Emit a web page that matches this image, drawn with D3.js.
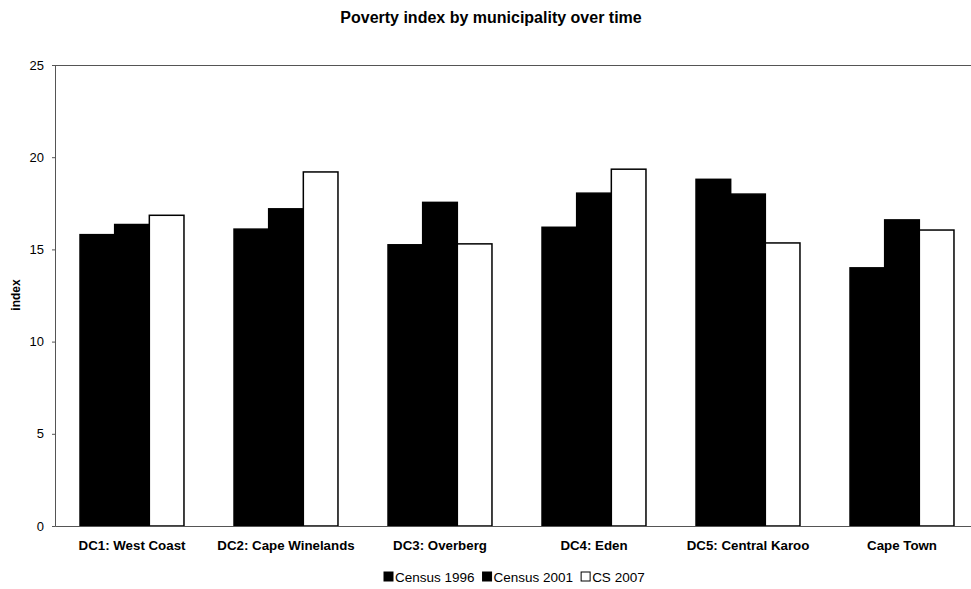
<!DOCTYPE html>
<html>
<head>
<meta charset="utf-8">
<script src="https://cdn.jsdelivr.net/npm/d3@7"></script>
<style>
  html, body { margin: 0; padding: 0; background: #fff; }
  svg { display: block; font-family: "Liberation Sans", Arial, sans-serif; }
</style>
</head>
<body>
<svg id="chart" width="971" height="589"></svg>
<script>
const categories = ["DC1: West Coast", "DC2: Cape Winelands", "DC3: Overberg", "DC4: Eden", "DC5: Central Karoo", "Cape Town"];
const seriesNames = ["Census 1996", "Census 2001", "CS 2007"];
const census1996 = [15.8, 16.1, 15.25, 16.2, 18.8, 14.0];
const census2001 = [16.35, 17.2, 17.55, 18.05, 18.0, 16.6];
const cs2007 = [16.85, 19.2, 15.3, 19.35, 15.35, 16.05];
const yTicks = [0, 5, 10, 15, 20, 25];
const seriesFill = ["#000", "#000", "#fff"];

const values = [census1996, census2001, cs2007];
const data = categories.map((c, i) => ({ cat: c, vals: seriesNames.map((s, j) => ({ s, v: values[j][i] })) }));

const svg = d3.select("#chart");
const m = { left: 55, top: 65, right: 979, bottom: 526 };

const x0 = d3.scaleBand().domain(categories).range([m.left, m.right]).paddingInner(0.325).paddingOuter(0.1625);
const x1 = d3.scaleBand().domain(seriesNames).range([0, x0.bandwidth()]);
const y = d3.scaleLinear().domain([0, 25]).range([m.bottom, m.top]);

// Title
svg.append("text").attr("x", 491).attr("y", 23).attr("text-anchor", "middle")
  .attr("font-size", 16).attr("font-weight", "bold").text("Poverty index by municipality over time");

// Top frame line
svg.append("line").attr("x1", m.left).attr("x2", m.right).attr("y1", m.top + 0.5).attr("y2", m.top + 0.5)
  .attr("stroke", "#555").attr("stroke-width", 1);

// Bars
const g = svg.append("g").selectAll("g").data(data).join("g")
  .attr("transform", d => `translate(${x0(d.cat)},0)`);
g.selectAll("rect").data(d => d.vals).join("rect")
  .attr("x", d => x1(d.s))
  .attr("y", d => y(d.v))
  .attr("width", x1.bandwidth())
  .attr("height", d => y(0) - y(d.v))
  .attr("fill", (d, i) => seriesFill[i])
  .attr("stroke", "#000").attr("stroke-width", 1.5);

// Y axis
const yAxis = d3.axisLeft(y).tickValues(yTicks).tickSize(3).tickPadding(8);
const ya = svg.append("g").attr("transform", `translate(${m.left},0)`).call(yAxis);
ya.select(".domain").attr("stroke", "#555");
ya.selectAll(".tick line").attr("stroke", "#555");
ya.selectAll("text").attr("font-size", 13).attr("fill", "#000").attr("font-family", "Liberation Sans, Arial, sans-serif");

// X axis
const xAxis = d3.axisBottom(x0).tickSize(0).tickPadding(15);
const xa = svg.append("g").attr("transform", `translate(0,${m.bottom})`).call(xAxis);
xa.select(".domain").attr("stroke", "#555");
xa.selectAll("text").attr("font-size", 13.3).attr("font-weight", "bold").attr("fill", "#000")
  .attr("font-family", "Liberation Sans, Arial, sans-serif");

// Y label
svg.append("text").attr("transform", "translate(20,295) rotate(-90)").attr("text-anchor", "middle")
  .attr("font-size", 12).attr("font-weight", "bold").text("index");

// Legend
const legend = svg.append("g").attr("transform", "translate(384,582)");
let lx = 0;
seriesNames.forEach((s, i) => {
  legend.append("rect").attr("x", lx).attr("y", -10).attr("width", 9).attr("height", 9)
    .attr("fill", seriesFill[i]).attr("stroke", "#000").attr("stroke-width", 1);
  const t = legend.append("text").attr("x", lx + 11).attr("y", 0).attr("font-size", 13.5).text(s);
  lx += 11 + t.node().getComputedTextLength() + 8;
});
</script>
</body>
</html>
